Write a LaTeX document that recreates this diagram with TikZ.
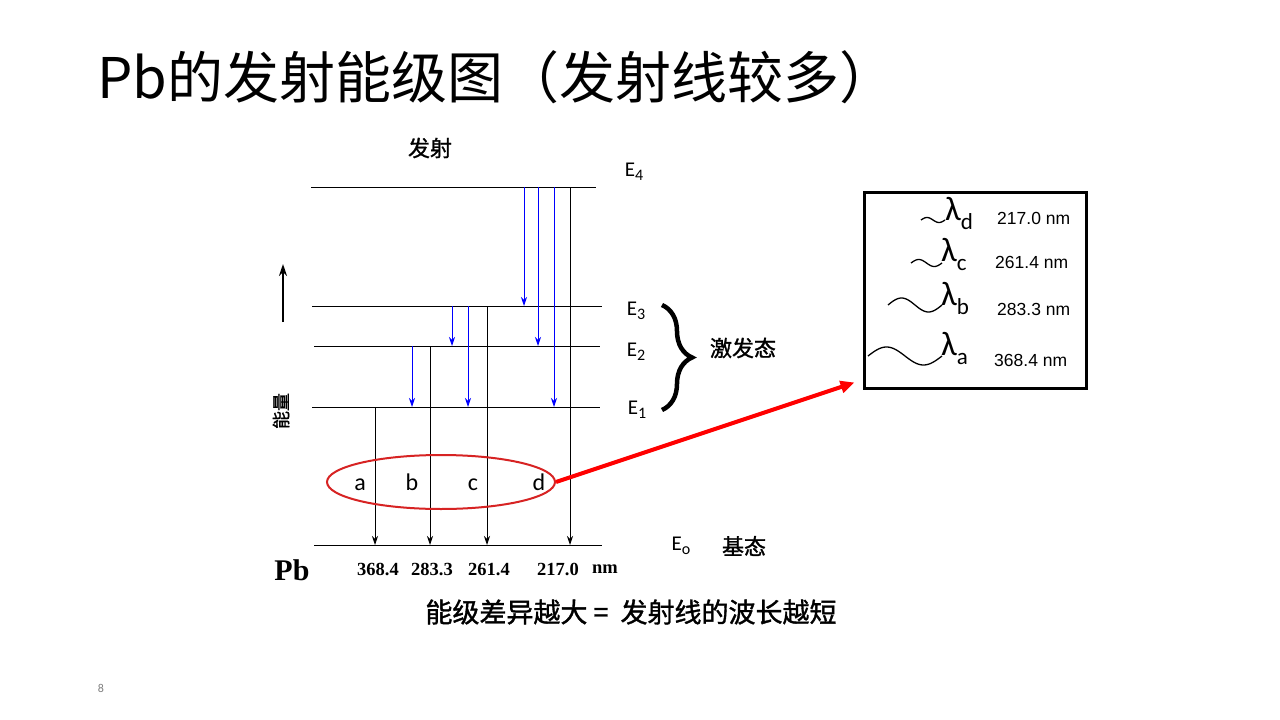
\documentclass[tikz,border=0pt]{standalone}
\usepackage{fontspec}
\setmainfont{Carlito}
\newfontfamily\cjk{Noto Sans CJK SC}
\newfontfamily\cjkm[FakeBold=1.3]{Noto Sans CJK SC}
\newfontfamily\arialf{Liberation Sans}
\newfontfamily\tnr{Liberation Serif}
\usetikzlibrary{arrows.meta,shapes.geometric,decorations.pathreplacing}
\definecolor{ellred}{RGB}{215,35,35}
\newcommand{\esub}[1]{\raisebox{-4.5pt}{\fontsize{16}{16}\selectfont #1}}
\newcommand{\lsub}[1]{\raisebox{-9pt}{\fontsize{23}{23}\selectfont #1}}
\begin{document}
\begin{tikzpicture}[x=1pt,y=-1pt,
  lvl/.style={line width=0.9pt},
  emit/.style={line width=0.9pt,-{Stealth[length=9pt,width=6pt,inset=3pt]}},
  blu/.style={emit,blue},
  elab/.style={font=\fontsize{21}{21}\selectfont,inner sep=0},
  cjkt/.style={font=\cjkm\fontsize{#1}{#1}\selectfont,inner sep=0},
  numlab/.style={font=\tnr\bfseries\fontsize{18.5}{18.5}\selectfont,inner sep=0},
  letlab/.style={font=\fontsize{24}{24}\selectfont,inner sep=0,anchor=base},
  wave/.style={line width=1.3pt},
  boxnum/.style={font=\arialf\fontsize{17.5}{17.5}\selectfont,inner sep=0,anchor=base west},
  lam/.style={font=\fontsize{34}{34}\selectfont,inner sep=0,anchor=west}]
\useasboundingbox (0,0) rectangle (1280,720);
\fill[white] (0,0) rectangle (1280,720);

% title
\node[anchor=west,font=\cjk\fontsize{56}{60}\selectfont,inner sep=0] (title) at (97,77) {Pb的发射能级图（发射线较多）};

% levels
\coordinate (L4a) at (311,187); \coordinate (L4b) at (596,187);
\coordinate (L3a) at (312,306); \coordinate (L3b) at (602,306);
\coordinate (L2a) at (314,346); \coordinate (L2b) at (600,346);
\coordinate (L1a) at (312,407); \coordinate (L1b) at (600,407);
\coordinate (L0a) at (314,545); \coordinate (L0b) at (602,545);
\foreach \l in {4,3,2,1,0}{\draw[lvl] (L\l a) -- (L\l b);}

% x positions
\coordinate (xa) at (375,0); \coordinate (xb) at (430,0);
\coordinate (xc) at (487,0); \coordinate (xd) at (570,0);
\coordinate (b1) at (412,0); \coordinate (b2) at (452,0);
\coordinate (b3) at (468,0); \coordinate (b4) at (524,0);
\coordinate (b5) at (538,0); \coordinate (b6) at (554,0);

% black emission arrows
\draw[emit] (L1a -| xa) -- (L0a -| xa);
\draw[emit] (L2a -| xb) -- (L0a -| xb);
\draw[emit] (L3a -| xc) -- (L0a -| xc);
\draw[emit] (L4a -| xd) -- (L0a -| xd);

% blue arrows
\draw[blu] (L2a -| b1) -- (L1a -| b1);
\draw[blu] (L3a -| b2) -- (L2a -| b2);
\draw[blu] (L3a -| b3) -- (L1a -| b3);
\draw[blu] (L4a -| b4) -- (L3a -| b4);
\draw[blu] (L4a -| b5) -- (L2a -| b5);
\draw[blu] (L4a -| b6) -- (L1a -| b6);

% level labels
\node[elab] (E4) at (634,172) {E\esub{4}};
\node[elab] (E3) at (636,311) {E\esub{3}};
\node[elab] (E2) at (636,352) {E\esub{2}};
\node[elab] (E1) at (637,410) {E\esub{1}};
\node[elab] (E0) at (681,546) {E\esub{o}};
\node[cjkt=22] (gs) at (744,546) {基态};

% brace
\coordinate (br1) at (662,305); \coordinate (br2) at (662,410);
\draw[decorate,decoration={brace,amplitude=30pt,aspect=0.5},line width=4.5pt] (br1) -- (br2);
\node[cjkt=22] (exc) at (743,348) {激发态};

\node[cjkt=22] (fs) at (430,148) {发射};

% energy axis
\node[cjkt=18,rotate=90] (nl) at (281,411) {能量};
\coordinate (ua) at (283,322); \coordinate (ub) at (283,264);
\draw[line width=2.5pt,-{Stealth[length=12pt,width=8pt]}] (ua) -- (ub);

% ellipse and labels
\node[ellipse,draw=ellred,line width=2pt,minimum width=228pt,minimum height=54pt,inner sep=0] (ell) at (441,482) {};
\node[letlab] (la) at (360,490) {a};
\node[letlab] (lb) at (412,490) {b};
\node[letlab] (lc) at (473,490) {c};
\node[letlab] (ld) at (539,490) {d};

% box
\node[draw,line width=3pt,minimum width=222pt,minimum height=196pt,inner sep=0] (box) at (975,290) {};
\draw[red,line width=4pt,-{Triangle[length=14pt,width=12pt]}] (ell.east) -- ([xshift=-8pt,yshift=7pt]box.south west);

% waves
\draw[wave] plot[domain=0:360,samples=40] ({921+\x/360*24},{220-2.5*sin(\x)});
\draw[wave] plot[domain=0:360,samples=40] ({911+\x/360*31},{263-3.5*sin(\x)});
\draw[wave] plot[domain=0:360,samples=50] ({888+\x/360*54},{305-7*sin(\x)});
\draw[wave] plot[domain=0:360,samples=60] ({868+\x/360*74},{356-9*sin(\x)});

% lambdas
\node[lam] (ld1) at (945,213) {λ\lsub{d}};
\node[lam] (lc1) at (941,254) {λ\lsub{c}};
\node[lam] (lb1) at (941,298) {λ\lsub{b}};
\node[lam] (la1) at (941,348) {λ\lsub{a}};
\node[boxnum] (nd) at (997,224) {217.0 nm};
\node[boxnum] (nc) at (995,268) {261.4 nm};
\node[boxnum] (nb) at (997,315) {283.3 nm};
\node[boxnum] (na) at (994,366) {368.4 nm};

% bottom numbers
\node[font=\tnr\bfseries\fontsize{30}{30}\selectfont,inner sep=0] (pb) at (292,570) {Pb};
\node[numlab] (n1) at (378,569) {368.4};
\node[numlab] (n2) at (432,569) {283.3};
\node[numlab] (n3) at (489,569) {261.4};
\node[numlab] (n4) at (558,569) {217.0};
\node[numlab] (n5) at (605,569) {nm};

\node[cjkt=27] (concl) at (631,612) {能级差异越大 =\hspace{6pt} 发射线的波长越短};

\node[font=\fontsize{12}{12}\selectfont,text=gray,inner sep=0] (pg) at (101,688) {8};
\end{tikzpicture}
\end{document}
